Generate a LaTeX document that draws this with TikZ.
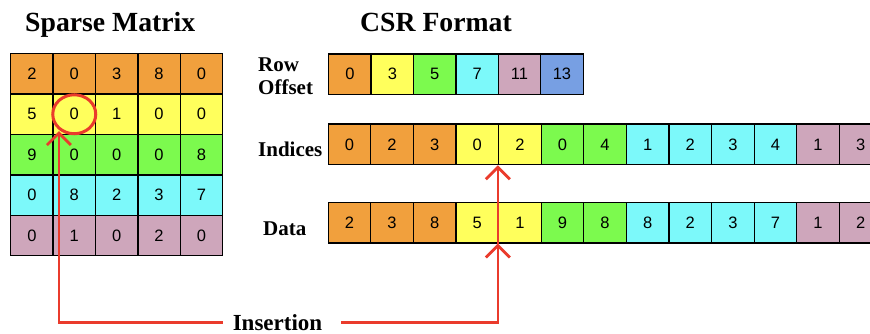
\documentclass[tikz,border=0pt]{standalone}
\usepackage{fontspec}
\setmainfont{Liberation Serif}
\newfontfamily\cellfont{Liberation Sans}
\usepackage{xcolor}
\usetikzlibrary{arrows.meta,positioning,calc}

\definecolor{orng}{HTML}{F1A03D}
\definecolor{ylw}{HTML}{FFFF5C}
\definecolor{grn}{HTML}{7CFA4E}
\definecolor{cyn}{HTML}{7CF9FA}
\definecolor{pnk}{HTML}{CEA6BB}
\definecolor{blu}{HTML}{779FE3}
\definecolor{insred}{HTML}{EA3B2C}

\begin{document}
\begin{tikzpicture}[
  x=1pt, y=-1pt,
  cell/.style={draw, line width=1.3pt, anchor=north west, inner sep=0pt,
    minimum width=42.6pt, minimum height=40.5pt, font=\cellfont\fontsize{16.5}{16.5}\selectfont},
  ttl/.style={font=\fontsize{27.7}{30}\selectfont\bfseries, inner sep=0pt},
  lbl/.style={font=\fontsize{21}{23}\selectfont\bfseries, inner sep=0pt, align=left},
  insarrow/.style={draw=insred, line width=2.8pt, -{Straight Barb[length=12pt, width=24pt]}}
]
  \useasboundingbox (0,0) rectangle (870,334);

  \node[ttl, anchor=base west] (smtitle) at (25,31.5) {Sparse Matrix};
  \node[ttl, anchor=base west] (csrtitle) at (360,31.5) {CSR Format};

  % the 5x5 matrix, one colour per row
  \foreach \vals/\col [count=\r from 0] in {{2,0,3,8,0}/orng, {5,0,1,0,0}/ylw,
      {9,0,0,0,8}/grn, {0,8,2,3,7}/cyn, {0,1,0,2,0}/pnk} {
    \foreach \v [count=\c from 0] in \vals
      \node[cell, minimum width=42.4pt, minimum height=40.4pt, fill=\col] (m-\r-\c) at (10+\c*42.4, 53+\r*40.4) {\v};
  }

  % CSR arrays
  \node[lbl, anchor=west] (offlbl) at (258,76.5) {Row\\Offset};
  \foreach \v/\col [count=\i from 0] in {0/orng, 3/ylw, 5/grn, 7/cyn, 11/pnk, 13/blu}
    \node[cell, fill=\col] (off-\i) at (328+\i*42.4, 53.3) {\v};

  \node[lbl, anchor=base west] (idxlbl) at (258,157) {Indices};
  \foreach \v/\col [count=\i from 0] in {0/orng, 2/orng, 3/orng, 0/ylw, 2/ylw, 0/grn, 4/grn,
      1/cyn, 2/cyn, 3/cyn, 4/cyn, 1/pnk, 3/pnk}
    \node[cell, fill=\col] (idx-\i) at (327.5+\i*42.6, 123.5) {\v};

  \node[lbl, anchor=base west] (datlbl) at (263,235.5) {Data};
  \foreach \v/\col [count=\i from 0] in {2/orng, 3/orng, 8/orng, 5/ylw, 1/ylw, 9/grn, 8/grn,
      8/cyn, 2/cyn, 3/cyn, 7/cyn, 1/pnk, 2/pnk}
    \node[cell, fill=\col] (dat-\i) at (327.5+\i*42.6, 201.7) {\v};

  % insertion of the zero at row 1, column 1
  \draw[insred, line width=3pt] (m-1-1.center) ellipse [x radius=21.5pt, y radius=19.5pt];
  \node[font=\fontsize{23}{23}\selectfont\bfseries, anchor=base, inner xsep=10pt, inner ysep=0pt] (ins) at (277.5,330.5) {Insertion};
  \coordinate (circin) at ([xshift=6.5pt, yshift=4pt]m-1-1.south west);

  \draw[insarrow] (ins.west) -| (circin);
  \draw[insarrow] ([xshift=9pt]ins.east) -| (dat-4.south west);
  \draw[insarrow] (dat-4.south west) -- (idx-4.south west);
\end{tikzpicture}
\end{document}
